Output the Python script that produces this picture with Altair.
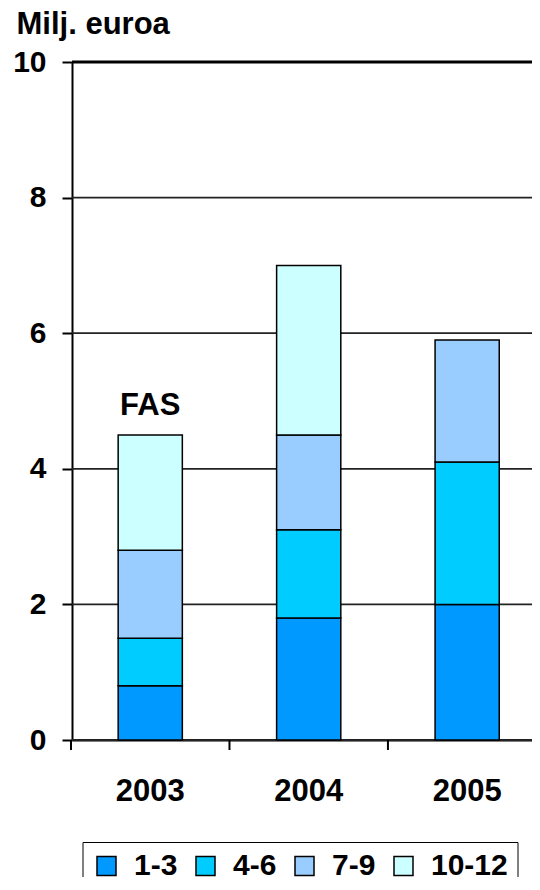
import altair as alt
import pandas as pd

years = ["2003", "2004", "2005"]
periods = ["1-3", "4-6", "7-9", "10-12"]
colors = ["#0099FF", "#00CCFF", "#99CCFF", "#CCFFFF"]
v_1_3 = [0.8, 1.8, 2.0]
v_4_6 = [0.7, 1.3, 2.1]
v_7_9 = [1.3, 1.4, 1.8]
v_10_12 = [1.7, 2.5, None]
y_ticks = [0, 2, 4, 6, 8, 10]
grid_values = [0, 2, 4, 6, 8]
top_value = [10]
note_text = "FAS"
note_year = "2003"
y_title = "Milj. euroa"

series = [v_1_3, v_4_6, v_7_9, v_10_12]
rows = []
for k, (p, vals) in enumerate(zip(periods, series)):
    for y, v in zip(years, vals):
        if v is not None:
            rows.append({"year": y, "period": p, "value": v, "k": k})
df = pd.DataFrame(rows)

FONT = "Liberation Sans"
W, H = 460, 678
P_INNER, P_OUTER, ALIGN = 0.595, 0.249, 0.585
STEP = W / (len(years) - P_INNER + 2 * P_OUTER)

xscale = alt.Scale(domain=years, paddingInner=P_INNER, paddingOuter=P_OUTER, align=ALIGN)

bars = alt.Chart(df).mark_bar(stroke="black", strokeWidth=1.5).encode(
    x=alt.X("year:N", scale=xscale, sort=years,
            axis=alt.Axis(title=None, labelAngle=0, labelFontSize=31, labelFontWeight="bold",
                          labelFont=FONT, labelColor="black", labelPadding=36, ticks=False,
                          domainColor="black", domainWidth=2)),
    y=alt.Y("value:Q", stack="zero", scale=alt.Scale(domain=[0, 10], nice=False),
            axis=alt.Axis(values=y_ticks, format="d", grid=False, labelFontSize=30,
                          labelFontWeight="bold",
                          labelFont=FONT, labelColor="black", labelPadding=16,
                          domainColor="black", domainWidth=2, tickColor="black",
                          tickWidth=2, tickSize=10,
                          title=y_title, titleAngle=0, titleFont=FONT, titleFontSize=31,
                          titleFontWeight="bold", titleColor="black", titleAlign="left",
                          titleBaseline="alphabetic", titleX=-56, titleY=-29)),
    color=alt.Color("period:N", scale=alt.Scale(domain=periods, range=colors),
                    legend=alt.Legend(title=None, orient="none", legendX=10.5, legendY=780,
                                      direction="horizontal", columns=4,
                                      strokeColor="black", padding=9,
                                      symbolType="square", symbolSize=361,
                                      symbolStrokeColor="black", symbolStrokeWidth=1.5,
                                      labelFont=FONT, labelFontSize=30, labelFontWeight="bold",
                                      labelColor="black", labelOffset=12.5, columnPadding=13,
                                      labelLimit=200)),
    order=alt.Order("k:Q", sort="ascending"),
)

tick_df = pd.DataFrame({"year": years})
xticks = alt.Chart(tick_df).mark_rule(color="black", strokeWidth=2,
                                      xOffset=-P_INNER * STEP / 2).encode(
    x=alt.X("year:N", scale=xscale, sort=years, bandPosition=0),
    y=alt.value(H), y2=alt.value(H + 10),
)

grid_df = pd.DataFrame({"v": grid_values})
grid = alt.Chart(grid_df).mark_rule(color="#222222", strokeWidth=1.8).encode(
    y=alt.Y("v:Q"), x=alt.value(0), x2=alt.value(W + 20)
)
top_df = pd.DataFrame({"v": top_value})
top = alt.Chart(top_df).mark_rule(color="black", strokeWidth=3).encode(
    y=alt.Y("v:Q"), x=alt.value(0), x2=alt.value(W + 20)
)

note_df = pd.DataFrame({"year": [note_year], "value": [sum(s[0] for s in series)], "t": [note_text]})
note = alt.Chart(note_df).mark_text(font=FONT, fontSize=31, fontWeight="bold", color="black",
                                    baseline="middle", dy=-29).encode(
    x=alt.X("year:N", scale=xscale, sort=years), y=alt.Y("value:Q"), text="t:N"
)

chart = alt.layer(grid, bars, top, xticks, note).properties(
    width=W, height=H,
    autosize=alt.AutoSizeParams(type="none"),
    padding={"left": 64, "top": 54, "right": 0, "bottom": 137},
).configure_view(stroke=None).configure(background="white")

chart.save("out.html", embed_options={"renderer": "svg", "actions": False})
